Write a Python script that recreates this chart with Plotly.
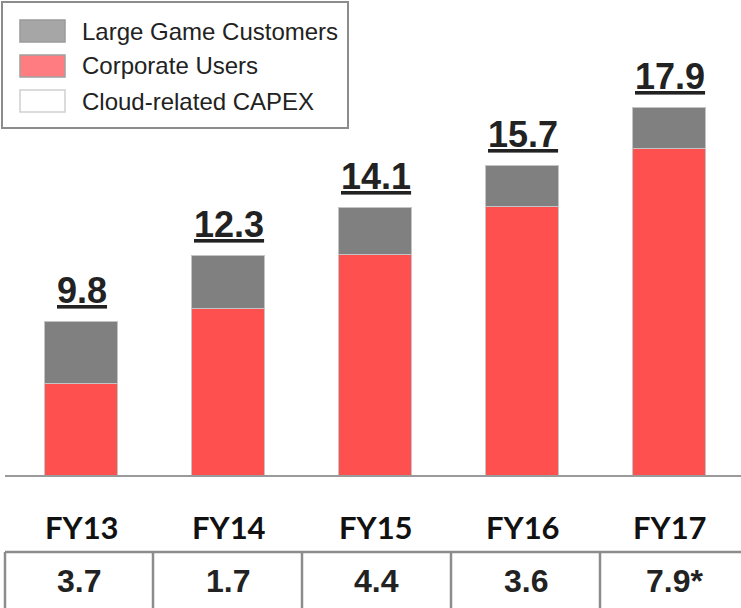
import plotly.graph_objects as go

# ---- data ----
years = ["FY13", "FY14", "FY15", "FY16", "FY17"]
corporate_users = [7.45, 10.3, 12.35, 14.15, 16.35]
large_game_customers = [2.35, 2.0, 1.75, 1.55, 1.55]
totals = [9.8, 12.3, 14.1, 15.7, 17.9]
capex_labels = ["3.7", "1.7", "4.4", "3.6", "7.9*"]
legend_names = ["Large Game Customers", "Corporate Users", "Cloud-related CAPEX"]

W, H = 741, 608
RED = "#FF5050"
GREY = "#808080"
BAR_EDGE = "#C4C4C4"
TEXT = "#222222"
LINE = "#8C8C8C"


def px(x):
    return x / W


def py(y):
    return 1 - y / H


fig = go.Figure()
fig.add_trace(go.Bar(
    x=years, y=corporate_users, name=legend_names[1],
    marker=dict(color=RED, line=dict(color=BAR_EDGE, width=1.5)),
    width=0.497, showlegend=False, hoverinfo="x+y+name",
))
fig.add_trace(go.Bar(
    x=years, y=large_game_customers, name=legend_names[0],
    marker=dict(color=GREY, line=dict(color=BAR_EDGE, width=1.5)),
    width=0.497, showlegend=False, hoverinfo="x+y+name",
))

annotations = []
# total labels (underlined) above bars
for yr, t in zip(years, totals):
    annotations.append(dict(
        x=yr, y=t, xref="x", yref="y", yanchor="bottom", xanchor="center",
        text=f'<span style="text-decoration:underline">{t:.1f}</span>',
        showarrow=False, yshift=9,
        font=dict(family="Liberation Sans, Arial", size=36, color=TEXT, weight="bold"),
    ))
# FY labels
for yr in years:
    annotations.append(dict(
        x=yr, y=py(527), xref="x", yref="paper", yanchor="middle", xanchor="center",
        text=f"<b>{yr}</b>", showarrow=False,
        font=dict(family="Lato, Liberation Sans", size=31, color="#111111"),
    ))
# table values
col_edges = [5, 153, 302, 451, 600, 749]
for i, lab in enumerate(capex_labels):
    cx = (col_edges[i] + col_edges[i + 1]) / 2
    annotations.append(dict(
        x=px(cx), y=py(581), xref="paper", yref="paper", yanchor="middle", xanchor="center",
        text=f"<b>{lab}</b>", showarrow=False,
        font=dict(family="Liberation Sans, Arial", size=32, color=TEXT),
    ))

shapes = []
# table grid
shapes.append(dict(type="line", xref="paper", yref="paper",
                   x0=px(5), x1=px(745), y0=py(552), y1=py(552),
                   line=dict(color=LINE, width=2.5)))
for xe in col_edges[:-1]:
    shapes.append(dict(type="line", xref="paper", yref="paper",
                       x0=px(xe), x1=px(xe), y0=py(552), y1=py(612),
                       line=dict(color=LINE, width=2.5)))

# custom legend
shapes.append(dict(type="rect", xref="paper", yref="paper",
                   x0=px(2), x1=px(348), y0=py(2), y1=py(128),
                   line=dict(color=LINE, width=2), fillcolor="white", layer="above"))
sw_fill = ["#A6A6A6", "#FF7C80", "#FFFFFF"]
sw_edge = ["#9A9A9A", "#A0A0A0", "#CFCFCF"]
row_c = [31, 66, 101]
for i, name in enumerate(legend_names):
    shapes.append(dict(type="rect", xref="paper", yref="paper",
                       x0=px(20), x1=px(65), y0=py(row_c[i] - 11), y1=py(row_c[i] + 11),
                       line=dict(color=sw_edge[i], width=1.5), fillcolor=sw_fill[i], layer="above"))
    annotations.append(dict(
        x=px(80), y=py(row_c[i]), xref="paper", yref="paper",
        xanchor="left", yanchor="middle", text=name, showarrow=False,
        font=dict(family="Liberation Sans, Arial", size=24, color=TEXT),
    ))

base_val = 4.0
ppu = 26.4  # pixels per unit
fig.update_layout(
    width=W, height=H,
    margin=dict(l=0, r=0, t=0, b=0),
    paper_bgcolor="white", plot_bgcolor="white",
    barmode="stack", bargap=0,
    xaxis=dict(type="category", categoryorder="array", categoryarray=years,
               domain=[px(5), 1], range=[-0.5204, 4.486],
               showline=True, linecolor="#9A9A9A", linewidth=2,
               showticklabels=False, ticks="", showgrid=False, zeroline=False),
    yaxis=dict(domain=[1 - 475 / H, 1], range=[base_val, base_val + 475 / ppu],
               visible=False, showgrid=False, zeroline=False),
    annotations=annotations, shapes=shapes, showlegend=False,
)

fig.write_html("out.html", config={"displayModeBar": False},
               post_script="document.body.style.margin='0';")
